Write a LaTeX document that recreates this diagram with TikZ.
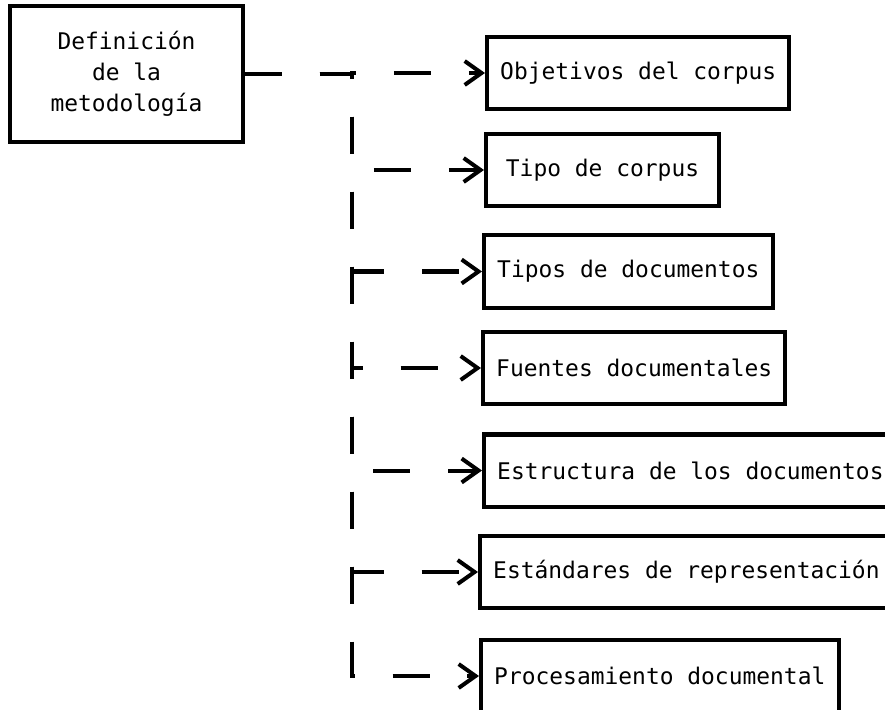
\documentclass[tikz,border=0pt]{standalone}
\usepackage{fontspec}
\newfontfamily\boxfont{DejaVu Sans Mono}
\usetikzlibrary{arrows.meta}

\tikzset{
  box/.style={draw, line width=2.85pt, anchor=west, minimum height=1.8cm, inner xsep=0.33cm},
  rootbox/.style={draw, line width=2.85pt, align=center, minimum width=5.825cm, minimum height=3.375cm},
  link/.style={line width=2.85pt, dash pattern=on 26.3pt off 27pt, -{Straight Barb[length=12pt,width=17pt]}}
}

\begin{document}
\begin{tikzpicture}[x=0.025cm, y=-0.025cm, font=\boxfont\fontsize{16.3pt}{22pt}\selectfont]
  \useasboundingbox (0,0) rectangle (885,709);
  % root box and the trunk line
  \node[rootbox] (def) at (126.5,74) {Definición\\de la\\metodología};
  \coordinate (trunk) at (352,74);
  % the seven steps
  \node[box] (obj) at (485,73) {Objetivos del corpus};
  \node[box, minimum width=5.825cm] (tipo) at (484,170) {Tipo de corpus};
  \node[box] (tipos) at (482,271.5) {Tipos de documentos};
  \node[box] (fuentes) at (481,368) {Fuentes documentales};
  \node[box] (estr) at (482,470.5) {Estructura de los documentos};
  \node[box] (estand) at (478,572) {Estándares de representación};
  \node[box] (proc) at (479,676) {Procesamiento documental};
  \foreach \n in {obj,tipo,tipos,fuentes,estr,estand,proc}
    \draw[link] (def.east) -- (trunk) |- (\n.west);
\end{tikzpicture}
\end{document}
